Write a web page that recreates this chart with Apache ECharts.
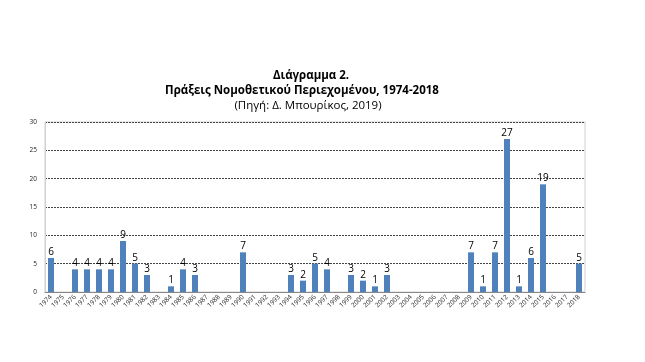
<!DOCTYPE html>
<html><head><meta charset="utf-8">
<script src="https://cdn.jsdelivr.net/npm/echarts@6/dist/echarts.min.js"></script>
<style>html,body{margin:0;padding:0;background:#fff}#c{width:645px;height:362px}</style>
</head><body><div id="c"></div>
<script>
const years = ['1974','1975','1976','1977','1978','1979','1980','1981','1982','1983','1984','1985','1986','1987','1988','1989','1990','1991','1992','1993','1994','1995','1996','1997','1998','1999','2000','2001','2002','2003','2004','2005','2006','2007','2008','2009','2010','2011','2012','2013','2014','2015','2016','2017','2018'];
const acts = [6,0,4,4,4,4,9,5,3,0,1,4,3,0,0,0,7,0,0,0,3,2,5,4,0,3,2,1,3,0,0,0,0,0,0,7,1,7,27,1,6,19,0,0,5];
const yTicks = [0,5,10,15,20,25,30];
const titleLines = ['Διάγραμμα 2.', 'Πράξεις Νομοθετικού Περιεχομένου, 1974-2018', '(Πηγή: Δ. Μπουρίκος, 2019)'];

const chart = echarts.init(document.getElementById('c'), null, {renderer:'canvas'});
const font = '"Open Sans", "Noto Sans", sans-serif';
chart.setOption({
  animation:false,
  title:[
    {text:titleLines[0], left:306, top:65, textAlign:'center', textStyle:{fontFamily:font, fontSize:11.5, fontWeight:'bold', color:'#000'}},
    {text:titleLines[1], left:297, top:80, textAlign:'center', textStyle:{fontFamily:font, fontSize:11.5, fontWeight:'bold', color:'#000'}},
    {text:titleLines[2], left:303, top:95, textAlign:'center', textStyle:{fontFamily:font, fontSize:11.5, fontWeight:'normal', color:'#000'}}
  ],
  grid:{left:45, right:60, top:122, bottom:70, containLabel:false, show:true, borderColor:'#d0d0d0', borderWidth:1},
  xAxis:{
    type:'category', data:years,
    axisLine:{lineStyle:{color:'#888'}},
    axisTick:{show:false},
    axisLabel:{rotate:45, fontSize:6.5, color:'#222', fontFamily:font, interval:0, margin:4}
  },
  yAxis:{
    type:'value', min:0, max:30, interval:5,
    axisLine:{show:true, lineStyle:{color:'#d0d0d0'}},
    axisTick:{show:false},
    axisLabel:{fontSize:6.5, color:'#222', fontFamily:font, margin:8, formatter:v=>yTicks.includes(v)?String(v):''},
    splitLine:{lineStyle:{color:'#444', type:[2,1], width:1}}
  },
  series:[{
    type:'bar', data:acts, barWidth:6,
    itemStyle:{color:'#4F81BD'},
    label:{show:true, position:'top', distance:1, fontSize:10, color:'#000', fontFamily:font,
      formatter:p=>p.value>0?String(p.value):''}
  }]
});
</script></body></html>
